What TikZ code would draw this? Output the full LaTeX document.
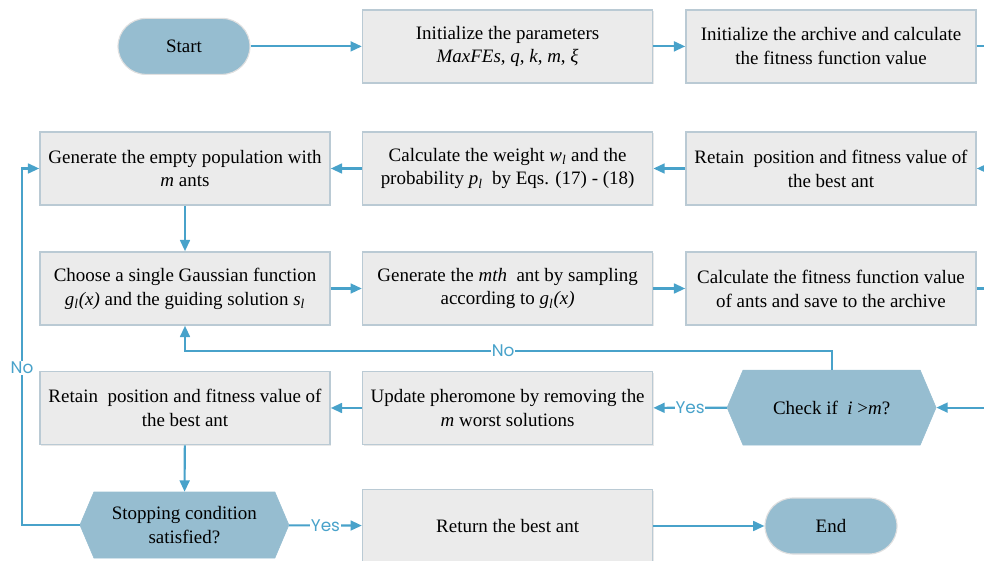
\documentclass[tikz,border=0pt]{standalone}
\usepackage{fontspec}
\setmainfont{Liberation Serif}
\newfontfamily\labelfont{Poppins}
\usepackage{tikz}
\usetikzlibrary{positioning, arrows.meta, shapes.symbols, shadows}
\definecolor{boxgray}{RGB}{235,235,235}
\definecolor{boxline}{RGB}{186,202,212}
\definecolor{termblue}{RGB}{150,189,208}
\definecolor{flowblue}{RGB}{72,162,202}
\tikzset{
  procbox/.style={draw=boxline, line width=1.1pt, fill=boxgray, minimum width=7.25cm, minimum height=1.825cm,
    align=center, font=\fontsize{13.5}{17}\selectfont, inner sep=2pt,
    drop shadow={opacity=0.18, shadow xshift=0.8pt, shadow yshift=-0.8pt}},
  termnode/.style={draw=black!12, line width=0.8pt, fill=termblue, rounded corners=7mm, minimum width=3.3cm,
    minimum height=1.4cm, align=center, font=\fontsize{13.5}{17}\selectfont},
  decnode/.style={shape=signal, signal to=west and east, signal pointer angle=134, fill=termblue, draw=termblue,
    minimum width=5.225cm, minimum height=1.875cm, align=center, font=\fontsize{13.5}{17}\selectfont, inner sep=1pt},
  flowedge/.style={draw=flowblue, line width=1.5pt, -{Triangle[length=8pt, width=7pt]}},
  flowlabel/.style={fill=white, inner sep=0.5pt, text=flowblue, font=\labelfont\fontsize{12}{13}\selectfont}
}
\begin{document}
\begin{tikzpicture}
  \useasboundingbox (0,0) rectangle (24.6,14);
  \clip (0,0) rectangle (24.6,14);
  % first row
  \node[termnode] (start) at (4.6,12.84)   {Start};
  \node[procbox]  (par)   at (12.69,12.84) {Initialize the parameters\\\textit{MaxFEs}, \textit{q}, \textit{k}, \textit{m}, \textit{ξ}};
  \node[procbox]  (arch)  at (20.775,12.84){Initialize the archive and calculate\\the fitness function value};
  % second row
  \node[procbox]  (empty) at (4.625,9.7875) {Generate the empty population with\\\textit{m} ants};
  \node[procbox]  (weight) at (12.69,9.7875){Calculate the weight \textit{w\textsubscript{l}} and the\\probability \textit{p\textsubscript{l}}~ by Eqs. (17) - (18)};
  \node[procbox]  (best1) at (20.775,9.7875){Retain~ position and fitness value of\\the best ant};
  % third row
  \node[procbox]  (gauss) at (4.625,6.7875) {Choose a single Gaussian function\\\textit{g\textsubscript{l}(x)} and the guiding solution \textit{s\textsubscript{l}}};
  \node[procbox]  (sample) at (12.69,6.7875){Generate the \textit{mth}~ ant by sampling\\according to \textit{g\textsubscript{l}(x)}};
  \node[procbox]  (fit)   at (20.775,6.7875){Calculate the fitness function value\\of ants and save to the archive};
  % fourth row
  \node[procbox]  (best2) at (4.625,3.8)   {Retain~ position and fitness value of\\the best ant};
  \node[procbox]  (update) at (12.69,3.8)  {Update pheromone by removing the\\\textit{m} worst solutions};
  \node[decnode]  (check) at (20.79,3.81)  {Check if~ \textit{i} >\textit{m}?};
  % last row
  \node[decnode, minimum height=1.65cm] (stop) at (4.61,0.875) {Stopping condition\\satisfied?};
  \node[procbox]  (ret)   at (12.69,0.85)  {Return the best ant};
  \node[termnode] (finish) at (20.775,0.85){End};
  \coordinate (leftrail) at (0.55,9.7875);
  % connectors
  \draw[flowedge] (start) -- (par);
  \draw[flowedge] (par) -- (arch);
  \draw[flowedge] (arch.east) -- ++(1,0) |- (best1.east);
  \draw[flowedge] (best1) -- (weight);
  \draw[flowedge] (weight) -- (empty);
  \draw[flowedge] (empty) -- (gauss);
  \draw[flowedge] (gauss) -- (sample);
  \draw[flowedge] (sample) -- (fit);
  \draw[flowedge] (fit.east) -- ++(1,0) |- (check.east);
  \draw[flowedge] (check.north) -- ++(0,0.475) -| node[flowlabel, pos=0.254] {No} (gauss.south);
  \draw[flowedge] (check) -- node[flowlabel] {Yes} (update);
  \draw[flowedge] (update) -- (best2);
  \draw[flowedge] (best2) -- (stop);
  \draw[flowedge] (stop) -- node[flowlabel] {Yes} (ret);
  \draw[flowedge] (ret) -- (finish);
  \draw[flowedge] (stop.west) -| node[flowlabel, pos=0.72] {No} (leftrail) -- (empty.west);
\end{tikzpicture}
\end{document}
